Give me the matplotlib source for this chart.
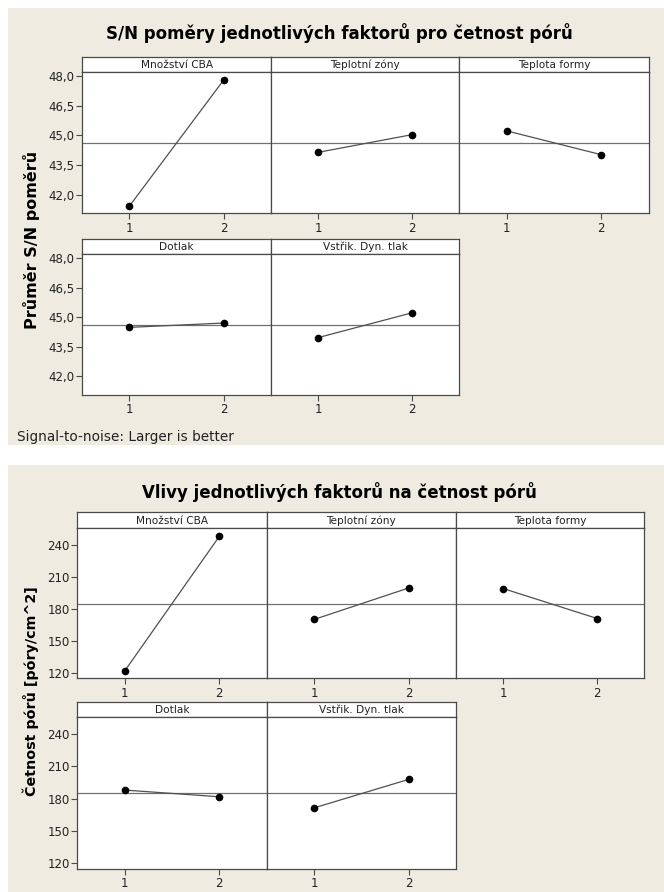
import matplotlib
matplotlib.use("Agg")
import matplotlib.pyplot as plt
from matplotlib.patches import Rectangle

# factor levels and names
levels = [1, 2]
factors = ["Množství CBA", "Teplotní zóny", "Teplota formy", "Dotlak", "Vstřik. Dyn. tlak"]

# S/N ratio means per factor level (larger is better)
sn_means = [[41.42, 47.82], [44.14, 45.04], [45.23, 44.02], [44.48, 44.70], [43.96, 45.22]]
sn_overall = 44.6
sn_ticks = [42.0, 43.5, 45.0, 46.5, 48.0]

# pore count means per factor level
por_means = [[121.6, 247.8], [169.9, 199.4], [198.9, 170.8], [187.9, 181.7], [171.4, 197.8]]
por_overall = 184.8
por_ticks = [120, 150, 180, 210, 240]

W, H = 664, 892
BG = "#EFEBE1"
EDGE = "#4a4a4a"
TXT = "#222222"

fig = plt.figure(figsize=(W / 100, H / 100), dpi=100)
fig.patch.set_facecolor("white")


def rect(x0, y0, x1, y1):
    # pixel box (top-left origin) -> figure fraction
    return [x0 / W, 1 - y1 / H, (x1 - x0) / W, (y1 - y0) / H]


def draw_chart(box, title, title_y, ylabel, ylabel_size, ylabel_x, ylabel_y, means, overall,
               ylim, yticks, yfmt, cols, rows):
    x0, y0, x1, y1 = box
    fig.add_artist(Rectangle((x0 / W, 1 - y1 / H), (x1 - x0) / W, (y1 - y0) / H,
                             transform=fig.transFigure, facecolor=BG, edgecolor="none", zorder=0))
    fig.text(339 / W, 1 - title_y / H, title, ha="center", va="center",
             fontsize=12, fontweight="bold", color="black")
    fig.text(ylabel_x / W, 1 - ylabel_y / H, ylabel, ha="center", va="center",
             rotation=90, fontsize=ylabel_size, fontweight="bold", color="black")

    i = 0
    for r, (s_top, s_bot, a_bot) in enumerate(rows):
        ncol = 3 if r == 0 else 2
        for c in range(ncol):
            left, right = cols[c], cols[c + 1]
            # strip with factor name
            sax = fig.add_axes(rect(left, s_top, right, s_bot))
            sax.set_facecolor("white")
            sax.set_xticks([])
            sax.set_yticks([])
            for sp in sax.spines.values():
                sp.set_color(EDGE)
                sp.set_linewidth(0.9)
            sax.text(0.5, 0.28, factors[i], ha="center", va="baseline",
                     fontsize=7.6, color=TXT, transform=sax.transAxes)

            ax = fig.add_axes(rect(left, s_bot, right, a_bot))
            ax.set_facecolor("white")
            ax.axhline(overall, color="#707070", lw=0.9, zorder=1)
            ax.plot(levels, means[i], color="#505050", lw=0.9, zorder=2)
            ax.plot(levels, means[i], "o", color="black", ms=4.5, zorder=3)
            ax.set_xlim(0.5, 2.5)
            ax.set_ylim(*ylim)
            ax.set_xticks(levels)
            ax.set_xticklabels([str(v) for v in levels])
            ax.set_yticks(yticks)
            if c == 0:
                ax.set_yticklabels([yfmt(v) for v in yticks])
                ax.tick_params(axis="y", length=4, width=0.8, color=EDGE,
                               labelsize=8.5, labelcolor=TXT, pad=1.5)
            else:
                ax.tick_params(axis="y", left=False, labelleft=False)
            ax.tick_params(axis="x", length=4, width=0.8, color=EDGE,
                           labelsize=8.5, labelcolor=TXT, pad=2)
            for sp in ax.spines.values():
                sp.set_color(EDGE)
                sp.set_linewidth(0.9)
            i += 1


draw_chart((7.5, 8, 664, 445),
           "S/N poměry jednotlivých faktorů pro četnost pórů", 33,
           "Průměr S/N poměrů", 11.5, 32, 240,
           sn_means, sn_overall, (41.05, 48.2), sn_ticks,
           lambda v: f"{v:.1f}".replace(".", ","),
           [82.3, 271, 459.3, 648.7],
           [(56.7, 72.3, 213.3), (239, 254, 395)])

fig.text(16.7 / W, 1 - 436.7 / H, "Signal-to-noise: Larger is better",
         ha="left", va="center", fontsize=9.8, color=TXT)

draw_chart((7.5, 465, 664, 892),
           "Vlivy jednotlivých faktorů na četnost pórů", 491.7,
           "Četnost pórů [póry/cm^2]", 10.3, 31, 691,
           por_means, por_overall, (114.8, 255.3), por_ticks,
           lambda v: f"{v:d}",
           [77.3, 266.7, 456, 644.3],
           [(512.3, 528.3, 678.3), (701.7, 717.3, 869)])

fig.savefig("out.png", dpi=100, facecolor=fig.get_facecolor())
